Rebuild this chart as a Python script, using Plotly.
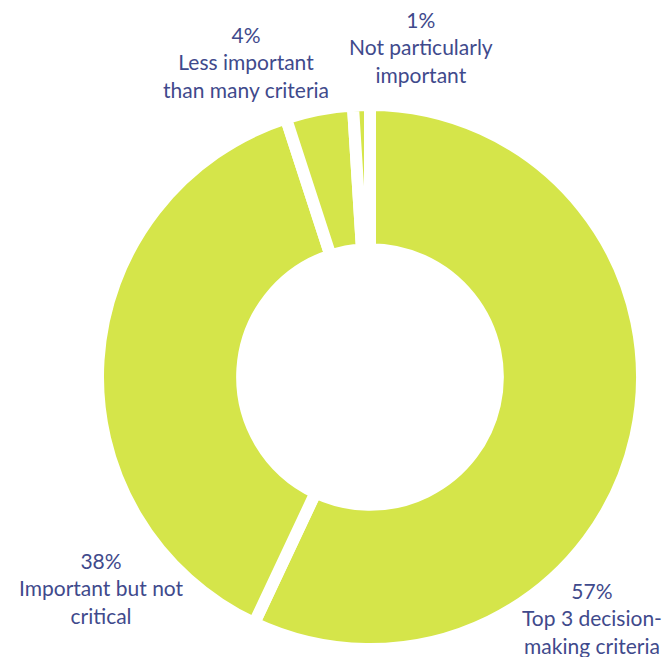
import plotly.graph_objects as go

categories = ["Top 3 decision-<br>making criteria",
              "Important but not<br>critical",
              "Less important<br>than many criteria",
              "Not particularly<br>important"]
values = [57, 38, 4, 1]
pct_labels = ["57%", "38%", "4%", "1%"]

GREEN = "#d5e54a"
NAVY = "#3f4a8c"
W, H = 662, 657

# donut geometry (pixels)
cx, cy, R = 370, 377, 272
fig = go.Figure(go.Pie(
    values=values,
    labels=categories,
    sort=False,
    direction="clockwise",
    rotation=0,
    hole=0.47,
    textinfo="none",
    hoverinfo="skip",
    marker=dict(colors=[GREEN] * len(values), line=dict(color="white", width=12)),
    domain=dict(x=[(cx - R) / W, (cx + R) / W],
                y=[(H - cy - R) / H, (H - cy + R) / H]),
))

# label positions (pixel centres)
label_pos = [(592, 618), (101, 588), (246, 62), (421, 47)]
for (px, py), pct, cat in zip(label_pos, pct_labels, categories):
    fig.add_annotation(
        x=px / W, y=(H - py) / H, xref="paper", yref="paper",
        text=f"{pct}<br>{cat}", showarrow=False,
        xanchor="center", yanchor="middle", align="center",
        font=dict(family="Lato", size=21, color=NAVY),
    )

fig.update_layout(
    width=W, height=H,
    margin=dict(l=0, r=0, t=0, b=0),
    paper_bgcolor="white", plot_bgcolor="white",
    showlegend=False,
)
fig.write_html("out.html")
